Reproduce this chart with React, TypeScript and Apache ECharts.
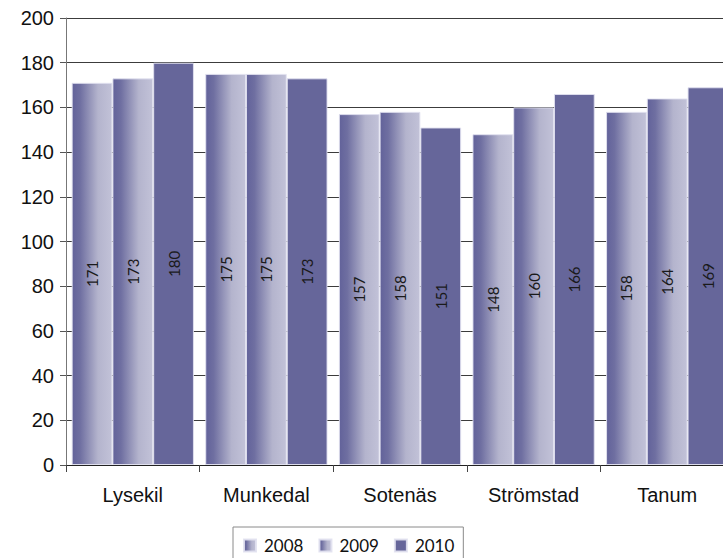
import React, { useEffect, useRef } from "react";
import * as echarts from "echarts";

const categories = ["Lysekil", "Munkedal", "Sotenäs", "Strömstad", "Tanum"];
const years = ["2008", "2009", "2010"];
const values2008 = [171, 175, 157, 148, 158];
const values2009 = [173, 175, 158, 160, 164];
const values2010 = [180, 173, 151, 166, 169];
const yTicks = { min: 0, max: 200, interval: 20 };

const grad = () =>
  new echarts.graphic.LinearGradient(0, 0, 1, 0, [
    { offset: 0, color: "#62629a" },
    { offset: 0.2, color: "#6f6fa1" },
    { offset: 0.65, color: "#b4b4cd" },
    { offset: 1, color: "#c2c2d8" },
  ]);

export default function App() {
  const ref = useRef<HTMLDivElement>(null);
  useEffect(() => {
    if (!ref.current) return;
    const chart = echarts.init(ref.current, null, { renderer: "svg" });
    const label = {
      show: true,
      position: "inside",
      rotate: 90,
      fontFamily: "Lato",
      fontSize: 15,
      color: "#1a1a1a",
    };
    const mk = (name: string, data: number[], color: any) => ({
      name,
      type: "bar",
      data,
      barGap: "0%",
      barCategoryGap: "8.5%",
      itemStyle: { color, borderColor: "rgba(225,225,240,0.9)", borderWidth: 1 },
      label,
    });
    chart.setOption({
      animation: false,
      grid: { left: 66, width: 668, top: 18, bottom: 93, containLabel: false },
      legend: {
        data: years,
        left: 233,
        top: 527,
        borderColor: "#8a8a8a",
        borderWidth: 1,
        padding: [10, 9, 10, 10],
        itemWidth: 12,
        itemHeight: 12,
        itemGap: 15,
        icon: "rect",
        textStyle: { fontFamily: "Lato", fontSize: 17, color: "#111", padding: [0, 0, 0, 3] },
      },
      xAxis: {
        type: "category",
        data: categories,
        axisLine: { lineStyle: { color: "#222", width: 1 } },
        axisTick: { show: true, length: 7, interval: 0, lineStyle: { color: "#444" } },
        axisLabel: { fontFamily: "Liberation Sans", fontSize: 20, color: "#111", margin: 20 },
      },
      yAxis: {
        type: "value",
        min: yTicks.min,
        max: yTicks.max,
        interval: yTicks.interval,
        axisLine: { show: true, lineStyle: { color: "#777", width: 1 } },
        axisTick: { show: true, length: 6, lineStyle: { color: "#555" } },
        axisLabel: { fontFamily: "Liberation Sans", fontSize: 20, color: "#111", margin: 12 },
        splitLine: { lineStyle: { color: "#3c3c3c", width: 1 } },
      },
      series: [
        mk("2008", values2008, grad()),
        mk("2009", values2009, grad()),
        mk("2010", values2010, "#66669a"),
      ],
    });
    return () => chart.dispose();
  }, []);
  return (
    <div
      style={{ position: "fixed", left: 0, top: 0, width: 723, height: 558, overflow: "hidden", background: "#fff" }}
    >
      <div ref={ref} style={{ width: 745, height: 558 }} />
    </div>
  );
}
